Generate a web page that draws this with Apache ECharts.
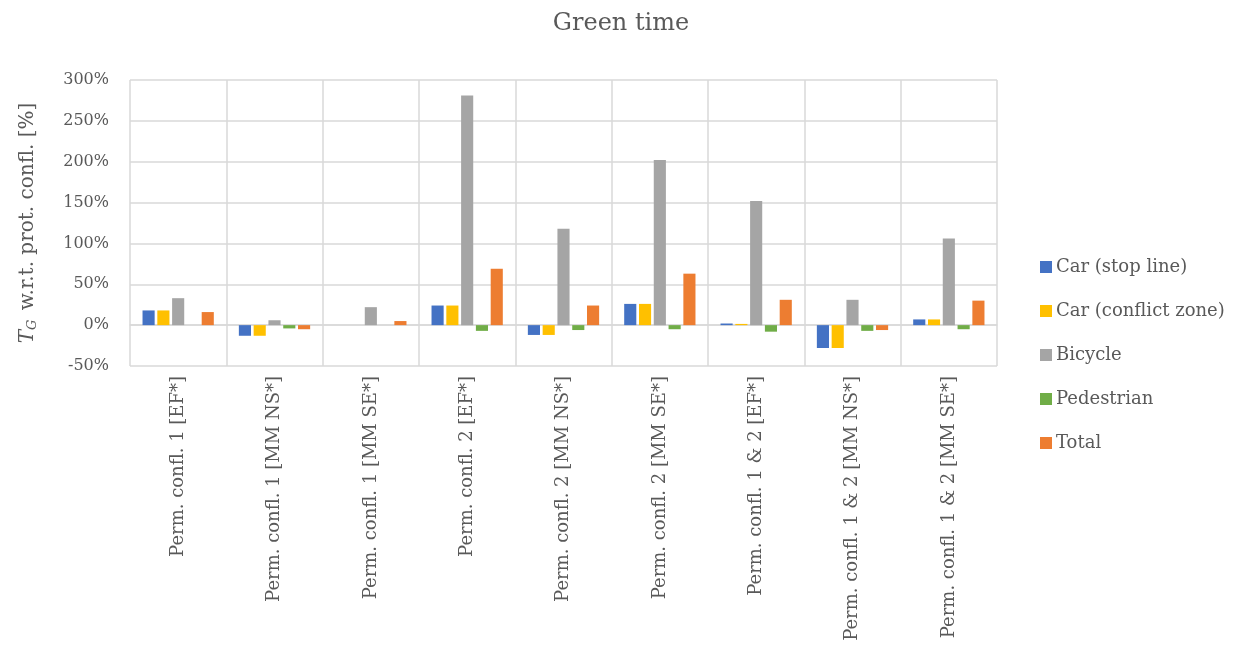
<!DOCTYPE html>
<html>
<head>
<meta charset="utf-8">
<script src="https://cdn.jsdelivr.net/npm/echarts@6/dist/echarts.min.js"></script>
<style>
  html, body { margin: 0; padding: 0; background: #fff; }
  #chart { width: 1242px; height: 646px; }
</style>
</head>
<body>
<div id="chart"></div>
<script>
// Scenario categories along the x axis
const categories = [
  'Perm. confl. 1 [EF*]',
  'Perm. confl. 1 [MM NS*]',
  'Perm. confl. 1 [MM SE*]',
  'Perm. confl. 2 [EF*]',
  'Perm. confl. 2 [MM NS*]',
  'Perm. confl. 2 [MM SE*]',
  'Perm. confl. 1 & 2 [EF*]',
  'Perm. confl. 1 & 2 [MM NS*]',
  'Perm. confl. 1 & 2 [MM SE*]'
];

// Change in green time relative to protected conflicts, in percent
const carStopLine     = [18, -13, 0, 24, -12, 26, 2, -28, 7];
const carConflictZone = [18, -13, 0, 24, -12, 26, 1.5, -28, 7];
const bicycle         = [33, 6, 22, 281, 118, 202, 152, 31, 106];
const pedestrian      = [0, -4, 0, -7, -6, -5, -8, -7, -5];
const total           = [16, -5, 5, 69, 24, 63, 31, -6, 30];

// Value axis ticks
const yMin = -50, yMax = 300, yStep = 50;

const FONT = 'DejaVu Serif';
const TEXT = '#595959';
const GRID = '#D9D9D9';

const seriesDefs = [
  { name: 'Car (stop line)',       data: carStopLine,     color: '#4472C4' },
  { name: 'Car (conflict zone)',   data: carConflictZone, color: '#FFC000' },
  { name: 'Bicycle',               data: bicycle,         color: '#A5A5A5' },
  { name: 'Pedestrian',            data: pedestrian,      color: '#70AD47' },
  { name: 'Total',                 data: total,           color: '#ED7D31' }
];

const chart = echarts.init(document.getElementById('chart'), null, { renderer: 'canvas' });

chart.setOption({
  animation: false,
  title: {
    text: 'Green time',
    left: 'center',
    top: 7,
    textStyle: { fontFamily: FONT, fontSize: 24, fontWeight: 'normal', color: TEXT }
  },
  legend: {
    orient: 'vertical',
    left: 1035,
    top: 253,
    itemWidth: 12,
    itemHeight: 12,
    itemGap: 26,
    icon: 'rect',
    textStyle: { fontFamily: FONT, fontSize: 18, color: TEXT, padding: [0, 0, 0, -1] }
  },
  grid: { left: 130, right: 245, top: 80, bottom: 280, containLabel: false },
  xAxis: {
    type: 'category',
    data: categories,
    axisLine: { lineStyle: { color: GRID, width: 1.5 } },
    axisTick: { show: false },
    splitLine: { show: true, lineStyle: { color: GRID, width: 1.5 } },
    axisLabel: {
      rotate: 90,
      interval: 0,
      margin: 10,
      fontFamily: FONT,
      fontSize: 18,
      color: TEXT
    }
  },
  yAxis: {
    type: 'value',
    min: yMin,
    max: yMax,
    interval: yStep,
    axisLine: { show: false },
    axisTick: { show: false },
    splitLine: { lineStyle: { color: GRID, width: 1.5 } },
    axisLabel: {
      formatter: '{value}%',
      margin: 21,
      fontFamily: FONT,
      fontSize: 16,
      color: TEXT
    },
    name: '{i|T}{s|G} w.r.t. prot. confl. [%]',
    nameLocation: 'middle',
    nameRotate: 90,
    nameGap: 91,
    nameTextStyle: {
      fontFamily: FONT,
      fontSize: 20,
      color: TEXT,
      rich: {
        i: { fontFamily: FONT, fontSize: 20, fontStyle: 'italic', color: TEXT },
        s: { fontFamily: FONT, fontSize: 13, fontStyle: 'italic', color: TEXT, padding: [9, 3, 0, 0] }
      }
    }
  },
  series: seriesDefs.map(s => ({
    name: s.name,
    type: 'bar',
    data: s.data,
    barGap: '22%',
    barCategoryGap: '26%',
    itemStyle: { color: s.color }
  }))
});
</script>
</body>
</html>
